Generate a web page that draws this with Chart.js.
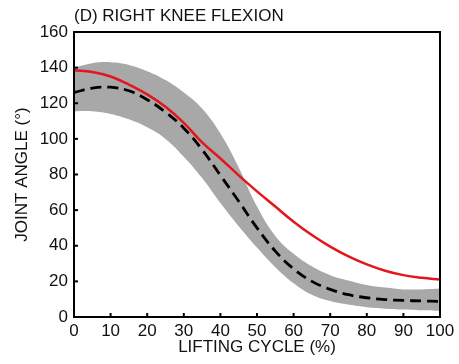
<!DOCTYPE html>
<html>
<head>
<meta charset="utf-8">
<script src="https://cdn.jsdelivr.net/npm/chart.js@4.4.1/dist/chart.umd.min.js"></script>
<style>
  html, body { margin: 0; padding: 0; background: #fff; }
  #wrap { width: 459px; height: 364px; }
</style>
</head>
<body>
<div id="wrap"><canvas id="kneeChart" width="459" height="364"></canvas></div>
<script>
// lifting cycle (%)
var cycle = [0, 5, 10, 15, 20, 25, 30, 35, 40, 45, 50, 55, 60, 65, 70, 75, 80, 85, 90, 95, 100];
// red solid curve
var redCurve = [138.5, 137.5, 135, 130.5, 125, 118, 109, 98, 89, 79.5, 70.5, 62, 53.5, 46, 39.5, 34, 29.5, 26, 23.5, 22, 21];
// black dashed mean
var meanCurve = [126, 128.5, 129, 127, 122, 115, 106, 94, 79.5, 65, 50, 37, 27, 20, 15.5, 12.5, 10.8, 9.8, 9.3, 9, 8.8];
// gray band edges
var bandUpper = [140, 142.5, 143, 141.5, 138, 133, 126, 117, 103, 84, 62, 45.5, 35.5, 28.5, 23.5, 20.5, 18, 16.5, 15.5, 15.5, 16];
var bandLower = [115.5, 115.5, 114, 111, 106.5, 100, 90, 78, 64, 51, 39, 28, 19, 12.5, 9, 7, 5.5, 4.7, 4.2, 3.8, 3.5];

var xTicks = [0, 10, 20, 30, 40, 50, 60, 70, 80, 90, 100];
var yTicks = [0, 20, 40, 60, 80, 100, 120, 140, 160];

function pts(arr) {
    return cycle.map(function (x, i) { return { x: x, y: arr[i] }; });
}

var FONT = 'Liberation Sans, Arial, sans-serif';

// frame around the plot and short inward tick marks
var frame = {
    id: 'frame',
    afterDraw: function (chart) {
        var c = chart.ctx, a = chart.chartArea;
        var xs = chart.scales.x, ys = chart.scales.y;
        c.save();
        c.strokeStyle = '#000';
        c.lineWidth = 2;
        c.strokeRect(a.left, a.top, a.right - a.left, a.bottom - a.top);
        xTicks.forEach(function (v) {
            var px = xs.getPixelForValue(v);
            c.beginPath(); c.moveTo(px, a.bottom); c.lineTo(px, a.bottom - 4); c.stroke();
        });
        yTicks.forEach(function (v) {
            var py = ys.getPixelForValue(v);
            c.beginPath(); c.moveTo(a.left, py); c.lineTo(a.left + 4, py); c.stroke();
        });
        c.restore();
    }
};

var ctx = document.getElementById('kneeChart').getContext('2d');
var chart = new Chart(ctx, {
    type: 'line',
    data: {
        datasets: [{
            label: 'upper',
            data: pts(bandUpper),
            borderWidth: 0,
            borderColor: 'rgba(0,0,0,0)',
            backgroundColor: '#a8a8a8',
            fill: '+1',
            order: 3
        }, {
            label: 'lower',
            data: pts(bandLower),
            borderWidth: 0,
            borderColor: 'rgba(0,0,0,0)',
            fill: false,
            order: 3
        }, {
            label: 'red',
            data: pts(redCurve),
            borderColor: '#e3161d',
            borderWidth: 2.5,
            fill: false,
            order: 2
        }, {
            label: 'mean',
            data: pts(meanCurve),
            borderColor: '#000',
            borderWidth: 2.8,
            borderDash: [11, 6],
            fill: false,
            order: 1
        }]
    },
    options: {
        responsive: false,
        animation: false,
        events: [],
        elements: {
            point: { radius: 0 },
            line: { tension: 0.4 }
        },
        layout: { padding: { left: 0, right: 19, top: 0, bottom: 0 } },
        plugins: {
            legend: { display: false },
            tooltip: { enabled: false },
            title: {
                display: true,
                text: '(D) RIGHT KNEE FLEXION',
                align: 'start',
                fullSize: false,
                color: '#111',
                font: { family: FONT, size: 17, weight: 'normal' },
                padding: { top: 6, bottom: 5.6 }
            }
        },
        scales: {
            x: {
                type: 'linear',
                min: 0,
                max: 100,
                afterBuildTicks: function (s) { s.ticks = xTicks.map(function (v) { return { value: v }; }); },
                afterFit: function (s) { s.height = 47; },
                grid: { display: false, drawTicks: false },
                border: { display: false },
                ticks: { color: '#111', font: { family: FONT, size: 17 }, padding: 4, maxRotation: 0 },
                title: {
                    display: true,
                    text: 'LIFTING CYCLE (%)',
                    color: '#111',
                    font: { family: FONT, size: 17 },
                    padding: { top: 0, bottom: 6 }
                }
            },
            y: {
                min: 0,
                max: 160,
                afterBuildTicks: function (s) { s.ticks = yTicks.map(function (v) { return { value: v }; }); },
                afterFit: function (s) { s.width = 74; },
                grid: { display: false, drawTicks: false },
                border: { display: false },
                ticks: { color: '#111', font: { family: FONT, size: 17 }, padding: 6 },
                title: {
                    display: true,
                    text: 'JOINT ANGLE (°)',
                    color: '#111',
                    font: { family: FONT, size: 17 },
                    padding: { top: 12, bottom: 0 }
                }
            }
        }
    },
    plugins: [frame]
});
</script>
</body>
</html>
